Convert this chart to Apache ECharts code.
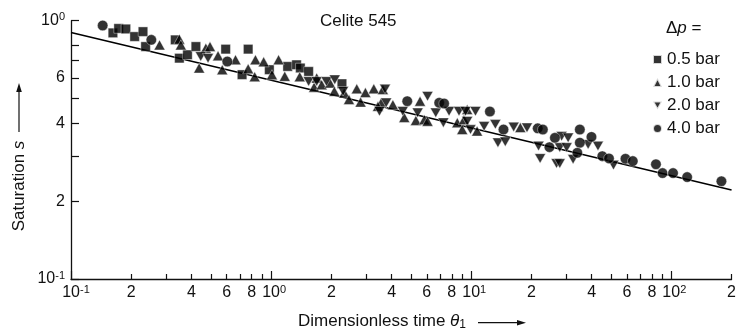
<!DOCTYPE html>
<html><head><meta charset="utf-8">
<script src="https://cdn.jsdelivr.net/npm/echarts@6/dist/echarts.min.js"></script>
<style>html,body{margin:0;padding:0;background:#fff}#c{width:739px;height:333px}</style>
</head><body><div id="c"></div>
<script>
// ---- data (theta_1, saturation s) ----
const bar05 = [[0.162,0.897],[0.173,0.933],[0.188,0.929],[0.208,0.868],[0.229,0.907],[0.236,0.794],
  [0.332,0.843],[0.348,0.716],[0.382,0.738],[0.421,0.794],[0.593,0.776],[0.768,0.776],[0.716,0.618],
  [0.980,0.646],[1.21,0.665],[1.34,0.675],[1.40,0.656],[1.54,0.636],[2.26,0.570]];
const bar10 = [[0.277,0.806],[0.348,0.848],[0.354,0.806],[0.437,0.656],[0.472,0.783],[0.495,0.794],
  [0.543,0.731],[0.570,0.646],[0.664,0.706],[0.768,0.651],[0.835,0.706],[0.828,0.607],[0.918,0.693],
  [1.01,0.618],[1.09,0.706],[1.17,0.609],[1.39,0.607],[1.64,0.553],[1.69,0.600],[1.79,0.565],
  [1.97,0.574],[2.07,0.533],[2.32,0.525],[2.45,0.495],[2.68,0.545],[2.80,0.484],[2.96,0.527],
  [3.26,0.545],[3.62,0.541],[3.55,0.481],[3.42,0.466],[4.06,0.473],[4.63,0.422],[5.55,0.488],
  [5.29,0.411],[5.83,0.414],[6.05,0.408],[8.52,0.403],[9.20,0.414],[9.02,0.379],[10.7,0.374],
  [9.55,0.453],[17.6,0.386]];
const bar20 = [[0.445,0.727],[0.484,0.716],[1.54,0.582],[1.69,0.582],[1.89,0.582],[2.08,0.591],
  [2.29,0.533],[3.71,0.544],[3.76,0.481],[3.48,0.446],[4.55,0.446],[5.40,0.440],[6.05,0.510],
  [6.65,0.440],[7.26,0.403],[7.75,0.446],[8.69,0.446],[9.37,0.446],[10.5,0.446],[9.55,0.408],
  [9.92,0.379],[11.6,0.390],[13.2,0.397],[16.3,0.388],[19.0,0.385],[13.6,0.337],[14.8,0.340],
  [21.7,0.327],[22.1,0.293],[26.7,0.280],[27.7,0.280],[28.3,0.357],[30.5,0.352],[27.7,0.323],
  [30.0,0.323],[32.3,0.291],[38.4,0.332],[43.0,0.327],[51.4,0.276]];
const bar40 = [[0.144,0.958],[0.252,0.843],[0.604,0.695],[4.79,0.488],[6.92,0.481],[7.32,0.478],
  [12.4,0.445],[14.5,0.379],[21.5,0.383],[22.8,0.379],[24.6,0.324],[26.2,0.352],[34.9,0.379],
  [39.9,0.355],[34.9,0.337],[33.9,0.308],[45.2,0.299],[48.8,0.293],[59.0,0.292],[64.2,0.286],
  [83.8,0.278],[90.4,0.257],[102,0.257],[120,0.248],[178,0.239]];
const fitTheta = [0.1, 200];
const fitS = [0.9, 0.221];
const seriesNames = ['0.5 bar','1.0 bar','2.0 bar','4.0 bar'];
// ---- axis ticks & labels ----
const xMajorTicks = [0.1, 1, 10, 100];
const xMinorTicks = [0.2,0.3,0.4,0.5,0.6,0.7,0.8,0.9,2,3,4,5,6,7,8,9,20,30,40,50,60,70,80,90,200];
const xLabelValues = [0.1,0.2,0.4,0.6,0.8,1,2,4,6,8,10,20,40,60,80,100,200];
const yTickValues = [0.1,0.2,0.3,0.4,0.5,0.6,0.7,0.8,1];
const yLabelValues = [0.1,0.2,0.4,0.6,1];

const FONT = '"Liberation Sans", Arial, sans-serif';
function decade(v){ const l = Math.log10(v), r = Math.round(l); return Math.abs(l - r) < 1e-6 ? r : null; }
function xFmt(v){ const d = decade(v); if (d !== null) return '{sp' + (d<0?'2':'1') + '|}{b|10}{sup|' + d + '}';
  return '{b|' + Math.round(v / Math.pow(10, Math.floor(Math.log10(v) + 1e-9))) + '}'; }
function yFmt(v){ const d = decade(v); if (d !== null) return '{b|10}{sup|' + d + '}';
  return '{b|' + Math.round(v / Math.pow(10, Math.floor(Math.log10(v) + 1e-9))) + '}'; }
const rich = { b:{fontSize:16, fontFamily:FONT, color:'#111', lineHeight:18},
  sup:{fontSize:11, fontFamily:FONT, color:'#111', verticalAlign:'top', lineHeight:11},
  sp1:{width:6}, sp2:{width:10} };

const chart = echarts.init(document.getElementById('c'), null, {renderer:'canvas'});
const downTri = 'path://M0,0L10,0L5,8.66Z';
const markStyle = {color:'#000', borderColor:'#fff', borderWidth:0.5};
chart.setOption({
  animation:false,
  backgroundColor:'#fff',
  grid:{left:71, right:2, top:20.7, bottom:54, containLabel:false},
  xAxis:[{type:'log', logBase:10, min:0.1, max:200, position:'bottom',
      axisLine:{lineStyle:{color:'#111', width:1.3}},
      axisTick:{inside:true, length:5, customValues:xMinorTicks, lineStyle:{color:'#111', width:1.2}},
      axisLabel:{customValues:xLabelValues, formatter:xFmt, rich:rich, margin:5, showMinLabel:true, showMaxLabel:true},
      splitLine:{show:false}},
    {type:'log', logBase:10, min:0.1, max:200, position:'bottom', gridIndex:0,
      axisLine:{show:false},
      axisTick:{inside:true, length:8, customValues:xMajorTicks, lineStyle:{color:'#111', width:1.2}},
      axisLabel:{show:false}, splitLine:{show:false}}],
  yAxis:{type:'log', logBase:10, min:0.1, max:1,
    axisLine:{show:true, lineStyle:{color:'#111', width:1.3}},
    axisTick:{show:true, inside:true, length:8, customValues:yTickValues, lineStyle:{color:'#111', width:1.2}},
    axisLabel:{customValues:yLabelValues, formatter:yFmt, rich:rich, margin:6, showMinLabel:true, showMaxLabel:true},
    splitLine:{show:false}},
  legend:{orient:'vertical', left:647, top:46, itemWidth:9, itemHeight:9, itemGap:6,
    data:seriesNames, textStyle:{fontSize:17, fontFamily:FONT, color:'#111'}, selectedMode:false},
  graphic:[
    {type:'text', left:320, top:13, style:{text:'Celite 545', font:'17px ' + FONT, fill:'#111'}},
    {type:'text', x:666, y:28, style:{text:'Δ{i|p} =', font:'17px ' + FONT, fill:'#111', verticalAlign:'middle',
      rich:{i:{fontStyle:'italic', fontSize:17, fontFamily:FONT}}}},
    {type:'text', x:19, y:186, rotation:Math.PI/2, style:{text:'Saturation {i|s}', font:'17px ' + FONT, fill:'#111',
      align:'center', verticalAlign:'middle', rich:{i:{fontStyle:'italic', fontSize:17, fontFamily:FONT}}}},
    {type:'line', shape:{x1:19, y1:132, x2:19, y2:90}, style:{stroke:'#111', lineWidth:1.2}},
    {type:'polygon', shape:{points:[[19,83],[16.2,92],[21.8,92]]}, style:{fill:'#111'}},
    {type:'text', x:298, y:321, style:{text:'Dimensionless time {i|θ}{sub|1}', font:'17px ' + FONT, fill:'#111',
      verticalAlign:'middle', rich:{i:{fontStyle:'italic', fontSize:17, fontFamily:FONT, lineHeight:20},
      sub:{fontSize:12, fontFamily:FONT, verticalAlign:'bottom', lineHeight:12}}}},
    {type:'line', shape:{x1:478, y1:322.7, x2:518, y2:322.7}, style:{stroke:'#111', lineWidth:1.2}},
    {type:'polygon', shape:{points:[[526,322.7],[517,320],[517,325.4]]}, style:{fill:'#111'}}
  ],
  series:[
    {type:'line', data:fitTheta.map((t,i)=>[t, fitS[i]]), showSymbol:false, symbol:'none', silent:true,
      lineStyle:{color:'#000', width:1.6}, z:1},
    {name:seriesNames[0], type:'scatter', data:bar05, symbol:'rect', symbolSize:9.5, itemStyle:markStyle, z:2},
    {name:seriesNames[1], type:'scatter', data:bar10, symbol:'triangle', symbolSize:[11,10], itemStyle:markStyle, z:2},
    {name:seriesNames[2], type:'scatter', data:bar20, symbol:downTri, symbolSize:[11,9.5], itemStyle:markStyle, z:2},
    {name:seriesNames[3], type:'scatter', data:bar40, symbol:'circle', symbolSize:10.5, itemStyle:markStyle, z:2}
  ]
});
</script></body></html>
